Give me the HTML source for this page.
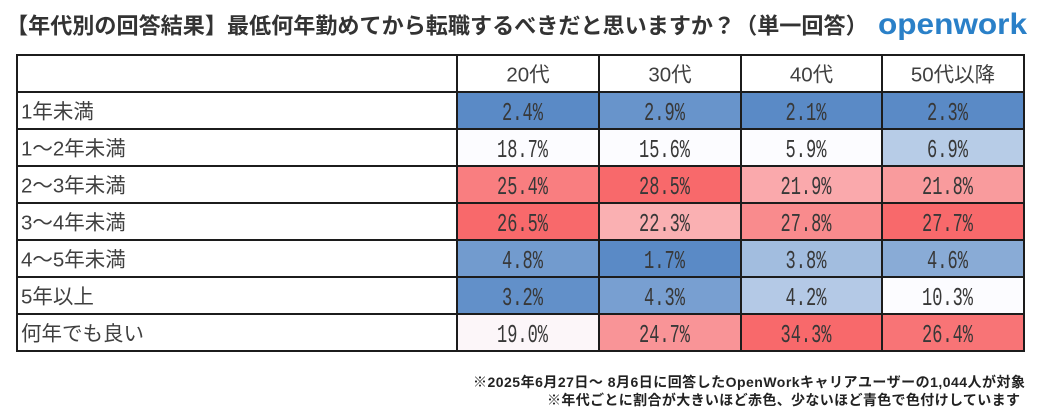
<!DOCTYPE html>
<html>
<head>
<meta charset="utf-8">
<style>
html,body{margin:0;padding:0;background:#fff;}
body{width:1039px;height:420px;overflow:hidden;}
svg{display:block;}
.t{font-family:"Noto Sans CJK JP",sans-serif;}
.lab{font-family:"Liberation Sans","Noto Sans CJK JP",sans-serif;font-size:20.5px;fill:#404040;}
.hd{font-family:"Liberation Sans","Noto Sans CJK JP",sans-serif;font-size:20.5px;fill:#404040;text-anchor:middle;}
.v{font-family:"Liberation Mono","DejaVu Sans Mono",monospace;font-size:26px;fill:#383838;text-anchor:middle;}
.fn{font-family:"Liberation Sans","Noto Sans CJK JP",sans-serif;font-size:14px;font-weight:bold;fill:#222;text-anchor:end;}
</style>
</head>
<body>
<svg width="1039" height="420" viewBox="0 0 1039 420" xmlns="http://www.w3.org/2000/svg">
<rect x="0" y="0" width="1039" height="420" fill="#fff"/>

<text class="t" x="6" y="33.5" font-size="22.1" font-weight="bold" fill="#333">【年代別の回答結果】最低何年勤めてから転職するべきだと思いますか？（単一回答）</text>

<text x="878" y="34" font-family="Liberation Sans, sans-serif" font-size="30" font-weight="bold" fill="#2a80c8" textLength="149" lengthAdjust="spacingAndGlyphs">openwork</text>

<rect x="457" y="92" width="142" height="37" fill="rgb(90,138,198)"/>
<rect x="599" y="92" width="142" height="37" fill="rgb(104,148,203)"/>
<rect x="741" y="92" width="141" height="37" fill="rgb(90,138,198)"/>
<rect x="882" y="92" width="142" height="37" fill="rgb(90,138,198)"/>

<rect x="457" y="129" width="142" height="37" fill="rgb(252,252,255)"/>
<rect x="599" y="129" width="142" height="37" fill="rgb(252,252,255)"/>
<rect x="741" y="129" width="141" height="37" fill="rgb(252,252,255)"/>
<rect x="882" y="129" width="142" height="37" fill="rgb(183,204,231)"/>

<rect x="457" y="166" width="142" height="37" fill="rgb(249,126,128)"/>
<rect x="599" y="166" width="142" height="37" fill="rgb(248,105,107)"/>
<rect x="741" y="166" width="141" height="37" fill="rgb(250,169,172)"/>
<rect x="882" y="166" width="142" height="37" fill="rgb(249,155,157)"/>

<rect x="457" y="203" width="142" height="37" fill="rgb(248,105,107)"/>
<rect x="599" y="203" width="142" height="37" fill="rgb(250,176,178)"/>
<rect x="741" y="203" width="141" height="37" fill="rgb(249,139,141)"/>
<rect x="882" y="203" width="142" height="37" fill="rgb(248,105,107)"/>

<rect x="457" y="240" width="142" height="37" fill="rgb(114,155,206)"/>
<rect x="599" y="240" width="142" height="37" fill="rgb(90,138,198)"/>
<rect x="741" y="240" width="141" height="37" fill="rgb(162,189,223)"/>
<rect x="882" y="240" width="142" height="37" fill="rgb(137,171,214)"/>

<rect x="457" y="277" width="142" height="37" fill="rgb(98,144,201)"/>
<rect x="599" y="277" width="142" height="37" fill="rgb(120,159,209)"/>
<rect x="741" y="277" width="141" height="37" fill="rgb(180,201,230)"/>
<rect x="882" y="277" width="142" height="37" fill="rgb(252,252,255)"/>

<rect x="457" y="314" width="142" height="37" fill="rgb(252,246,249)"/>
<rect x="599" y="314" width="142" height="37" fill="rgb(249,148,151)"/>
<rect x="741" y="314" width="141" height="37" fill="rgb(248,105,107)"/>
<rect x="882" y="314" width="142" height="37" fill="rgb(248,116,118)"/>

<g stroke="#1c1c1c" stroke-width="2" fill="none">
<rect x="17" y="55" width="1007" height="296"/>
<line x1="16" y1="92" x2="1025" y2="92"/>
<line x1="16" y1="129" x2="1025" y2="129"/>
<line x1="16" y1="166" x2="1025" y2="166"/>
<line x1="16" y1="203" x2="1025" y2="203"/>
<line x1="16" y1="240" x2="1025" y2="240"/>
<line x1="16" y1="277" x2="1025" y2="277"/>
<line x1="16" y1="314" x2="1025" y2="314"/>
<line x1="457" y1="54" x2="457" y2="352"/>
<line x1="599" y1="54" x2="599" y2="352"/>
<line x1="741" y1="54" x2="741" y2="352"/>
<line x1="882" y1="54" x2="882" y2="352"/>
</g>

<text class="hd" x="528" y="81.5">20代</text>
<text class="hd" x="670" y="81.5">30代</text>
<text class="hd" x="811.5" y="81.5">40代</text>
<text class="hd" x="953" y="81.5">50代以降</text>

<text class="lab" x="21" y="118.5">1年未満</text>
<text class="lab" x="21" y="155.5">1～2年未満</text>
<text class="lab" x="21" y="192.5">2～3年未満</text>
<text class="lab" x="21" y="229.5">3～4年未満</text>
<text class="lab" x="21" y="266.5">4～5年未満</text>
<text class="lab" x="21" y="303.5">5年以上</text>
<text class="lab" x="21" y="340.5">何年でも良い</text>

<g>
<text class="v" x="522.5" y="120" textLength="41" lengthAdjust="spacingAndGlyphs">2.4%</text>
<text class="v" x="664.5" y="120" textLength="41" lengthAdjust="spacingAndGlyphs">2.9%</text>
<text class="v" x="806" y="120" textLength="41" lengthAdjust="spacingAndGlyphs">2.1%</text>
<text class="v" x="947.5" y="120" textLength="41" lengthAdjust="spacingAndGlyphs">2.3%</text>

<text class="v" x="522.5" y="157" textLength="51" lengthAdjust="spacingAndGlyphs">18.7%</text>
<text class="v" x="664.5" y="157" textLength="51" lengthAdjust="spacingAndGlyphs">15.6%</text>
<text class="v" x="806" y="157" textLength="41" lengthAdjust="spacingAndGlyphs">5.9%</text>
<text class="v" x="947.5" y="157" textLength="41" lengthAdjust="spacingAndGlyphs">6.9%</text>

<text class="v" x="522.5" y="194" textLength="51" lengthAdjust="spacingAndGlyphs">25.4%</text>
<text class="v" x="664.5" y="194" textLength="51" lengthAdjust="spacingAndGlyphs">28.5%</text>
<text class="v" x="806" y="194" textLength="51" lengthAdjust="spacingAndGlyphs">21.9%</text>
<text class="v" x="947.5" y="194" textLength="51" lengthAdjust="spacingAndGlyphs">21.8%</text>

<text class="v" x="522.5" y="231" textLength="51" lengthAdjust="spacingAndGlyphs">26.5%</text>
<text class="v" x="664.5" y="231" textLength="51" lengthAdjust="spacingAndGlyphs">22.3%</text>
<text class="v" x="806" y="231" textLength="51" lengthAdjust="spacingAndGlyphs">27.8%</text>
<text class="v" x="947.5" y="231" textLength="51" lengthAdjust="spacingAndGlyphs">27.7%</text>

<text class="v" x="522.5" y="268" textLength="41" lengthAdjust="spacingAndGlyphs">4.8%</text>
<text class="v" x="664.5" y="268" textLength="41" lengthAdjust="spacingAndGlyphs">1.7%</text>
<text class="v" x="806" y="268" textLength="41" lengthAdjust="spacingAndGlyphs">3.8%</text>
<text class="v" x="947.5" y="268" textLength="41" lengthAdjust="spacingAndGlyphs">4.6%</text>

<text class="v" x="522.5" y="305" textLength="41" lengthAdjust="spacingAndGlyphs">3.2%</text>
<text class="v" x="664.5" y="305" textLength="41" lengthAdjust="spacingAndGlyphs">4.3%</text>
<text class="v" x="806" y="305" textLength="41" lengthAdjust="spacingAndGlyphs">4.2%</text>
<text class="v" x="947.5" y="305" textLength="51" lengthAdjust="spacingAndGlyphs">10.3%</text>

<text class="v" x="522.5" y="342" textLength="51" lengthAdjust="spacingAndGlyphs">19.0%</text>
<text class="v" x="664.5" y="342" textLength="51" lengthAdjust="spacingAndGlyphs">24.7%</text>
<text class="v" x="806" y="342" textLength="51" lengthAdjust="spacingAndGlyphs">34.3%</text>
<text class="v" x="947.5" y="342" textLength="51" lengthAdjust="spacingAndGlyphs">26.4%</text>
</g>

<text class="fn" x="1025" y="387" textLength="552">※2025年6月27日～ 8月6日に回答したOpenWorkキャリアユーザーの1,044人が対象</text>
<text class="fn" x="1020" y="405" textLength="473">※年代ごとに割合が大きいほど赤色、少ないほど青色で色付けしています</text>
</svg>
</body>
</html>
